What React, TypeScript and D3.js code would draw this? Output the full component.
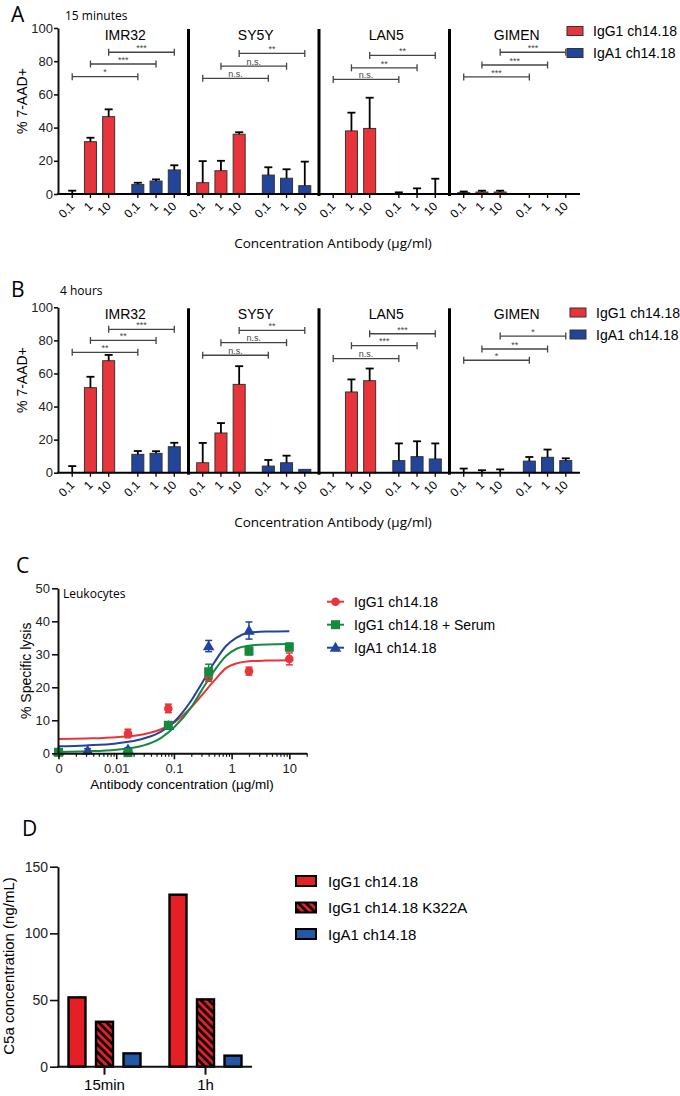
import { useEffect, useRef } from "react";
import * as d3 from "d3";

const SANS = "'Liberation Sans', Arial, sans-serif";
const HUM = "'Open Sans', 'Noto Sans', sans-serif";

// panels A/B
const cellLines = ["IMR32", "SY5Y", "LAN5", "GIMEN"];
const concLabels = ["0,1", "1", "10"];
const abLegend = ["IgG1 ch14.18", "IgA1 ch14.18"];

// A: 15 minutes (mean, upward error)
const minIgG = [[0, 31.5, 46.6], [6.8, 14, 36], [0, 38, 39.5], [0.8, 1.2, 1.2]];
const minIgGErr = [[2, 2.4, 4.4], [13, 6, 1.2], [0, 11, 18.5], [0.7, 0.8, 0.8]];
const minIgA = [[5.8, 7.8, 14.5], [11.4, 9.5, 5], [0, 0, 0], [0, 0, 0]];
const minIgAErr = [[1, 1, 2.8], [4.7, 5.4, 14.5], [1, 3.4, 9.2], [0, 0, 0]];
const minSig = [[70.7, 78.3, 85.4], [69.7, 77, 84.7], [69, 76, 83.5], [70.5, 77.7, 85.4]];
const minSigLabels = [["*", "***", "***"], ["n.s.", "n.s.", "**"], ["n.s.", "**", "**"], ["***", "***", "***"]];

// B: 4 hours
const hrIgG = [[0, 51.4, 67.7], [6, 24, 53.4], [0, 48.8, 55.6], [0, 0, 0]];
const hrIgGErr = [[4, 6.6, 3.5], [12, 6, 11], [0, 7.6, 7.4], [2.5, 1.5, 2]];
const hrIgA = [[11.1, 11.7, 15.7], [4, 6, 2], [7.3, 9.7, 8.3], [7, 9.3, 7.3]];
const hrIgAErr = [[2, 1.3, 2.4], [3.7, 4.3, 0], [10.4, 9.3, 9.4], [2.5, 4.7, 1.4]];
const hrSig = [[72.8, 80, 86.7], [71, 78.6, 86], [69, 76.8, 84], [68, 74.8, 82.6]];
const hrSigLabels = [["**", "**", "***"], ["n.s.", "n.s.", "**"], ["n.s.", "***", "***"], ["*", "**", "*"]];

// C: leukocytes, specific lysis
const igg1Dose = [0.016, 0.08, 0.4, 2, 10];
const igg1Lysis = [6, 13.6, 23, 24.9, 28.6];
const igg1Sem = [1.3, 1.3, 1.2, 1.2, 1.8];
const serumDose = [0.001, 0.016, 0.08, 0.4, 2, 10];
const serumLysis = [0.3, 0.2, 8.5, 24.7, 31, 32.2];
const serumSem = [0.3, 0.4, 0.8, 2.3, 1.2, 1.2];
const igaDose = [0.001, 0.0032, 0.016, 0.08, 0.4, 2];
const igaLysis = [0.6, 0.8, 1.2, 8.3, 32.5, 37.2];
const igaSem = [0.5, 0.6, 0.5, 0.6, 1.7, 2.6];
// fitted curves
const fitDose = [0.001, 0.003, 0.01, 0.03, 0.06, 0.1, 0.2, 0.3, 0.5, 0.8, 1.2, 2, 4, 10];
const igg1Fit = [4.3, 4.5, 4.9, 5.8, 7.3, 9.3, 14, 17.5, 22, 25.8, 27.2, 27.9, 28.1, 28.2];
const serumFit = [0.4, 0.6, 1.1, 2.4, 4.7, 7.8, 14, 19, 25, 29.5, 31.6, 32.6, 33, 33.1];
const igaFit = [2.1, 2.4, 3, 4.5, 6.6, 9.5, 16, 21, 27.5, 32.5, 35, 36.5, 36.9, 37];
const cLegend = ["IgG1 ch14.18", "IgG1 ch14.18 + Serum", "IgA1 ch14.18"];

// D: C5a
const timePoints = ["15min", "1h"];
const c5aIgG1 = [52, 129];
const c5aK322A = [33.7, 50.5];
const c5aIgA1 = [10, 8.3];
const dLegend = ["IgG1 ch14.18", "IgG1 ch14.18 K322A", "IgA1 ch14.18"];

const RED = "#e8343b";
const BLUE = "#23449b";
const GREEN = "#16893f";

function styleAxis(g: any, size: number) {
  g.select(".domain").attr("stroke-width", 2).attr("stroke", "#111");
  g.selectAll(".tick line").attr("stroke-width", 1.6).attr("stroke", "#111");
  g.selectAll(".tick text").attr("font-family", SANS).attr("font-size", size).attr("fill", "#222");
}

function drawBarPanel(svg: any, o: any) {
  const y = d3.scaleLinear().domain([0, 100]).range([o.bottom, o.top]);
  const xg = d3.scaleBand<string>().domain(cellLines).range([58, 580]);
  const slot = d3.scaleLinear().domain([-0.78, 6.38]).range([0, xg.bandwidth()]);
  const slotIdx = [0, 1, 2, 3.6, 4.6, 5.6];
  const barX = (gi: number, s: number, c: number) => (xg(cellLines[gi]) as number) + slot(slotIdx[s * 3 + c]);
  const g = svg.append("g");

  g.append("text").attr("x", 11).attr("y", o.letterY).attr("font-family", HUM)
    .attr("font-size", 21).text(o.letter);
  g.append("text").attr("x", o.subX).attr("y", o.letterY - 2).attr("font-family", HUM)
    .attr("font-size", 12).text(o.subtitle);

  // group labels and dividers
  cellLines.forEach((name, gi) => {
    const gx = xg(name) as number;
    g.append("text").attr("x", gx + xg.bandwidth() / 2 + 2).attr("y", o.top + 11.5)
      .attr("text-anchor", "middle").attr("font-family", SANS).attr("font-size", 14).text(name);
    if (gi > 0) {
      g.append("line").attr("x1", gx).attr("x2", gx).attr("y1", o.top + 1).attr("y2", o.bottom + 2)
        .attr("stroke", "#000").attr("stroke-width", 3);
    }
  });

  // bars + error bars
  const series = [
    { vals: o.igg, errs: o.iggErr, color: RED },
    { vals: o.iga, errs: o.igaErr, color: BLUE },
  ];
  cellLines.forEach((_, gi) => {
    series.forEach((s, si) => {
      concLabels.forEach((lab, c) => {
        const x = barX(gi, si, c);
        const v = s.vals[gi][c];
        const e = s.errs[gi][c];
        if (v > 0) {
          g.append("rect").attr("x", x - 6).attr("width", 12).attr("y", y(v))
            .attr("height", o.bottom - y(v)).attr("fill", s.color)
            .attr("stroke", "#333").attr("stroke-width", 1);
        }
        if (e > 0) {
          g.append("line").attr("x1", x).attr("x2", x).attr("y1", y(v)).attr("y2", y(v + e))
            .attr("stroke", "#000").attr("stroke-width", 1.8);
          g.append("line").attr("x1", x - 4).attr("x2", x + 4).attr("y1", y(v + e)).attr("y2", y(v + e))
            .attr("stroke", "#000").attr("stroke-width", 1.8);
        }
        g.append("line").attr("x1", x).attr("x2", x).attr("y1", o.bottom).attr("y2", o.bottom + 4)
          .attr("stroke", "#000").attr("stroke-width", 1.3);
        g.append("text").attr("transform", `translate(${x + 3},${o.bottom + 13}) rotate(-45)`)
          .attr("text-anchor", "end").attr("font-family", SANS).attr("font-size", 12).text(lab);
      });
    });
  });

  // significance brackets
  cellLines.forEach((_, gi) => {
    [0, 1, 2].forEach((k) => {
      const x1 = barX(gi, 0, k);
      const x2 = barX(gi, 1, k);
      const yy = y(o.sig[gi][k]);
      g.append("line").attr("x1", x1).attr("x2", x2).attr("y1", yy).attr("y2", yy)
        .attr("stroke", "#444").attr("stroke-width", 1.3);
      [x1, x2].forEach((xx) => g.append("line").attr("x1", xx).attr("x2", xx)
        .attr("y1", yy - 3.5).attr("y2", yy + 3.5).attr("stroke", "#444").attr("stroke-width", 1.3));
      g.append("text").attr("x", (x1 + x2) / 2).attr("y", yy - 1.2).attr("text-anchor", "middle")
        .attr("font-family", SANS).attr("font-size", 9).attr("fill", "#444").text(o.sigLabels[gi][k]);
    });
  });

  // axes
  g.append("line").attr("x1", 57).attr("x2", 580).attr("y1", o.bottom).attr("y2", o.bottom)
    .attr("stroke", "#000").attr("stroke-width", 2);
  const ya = g.append("g").attr("transform", "translate(58,0)")
    .call(d3.axisLeft(y).tickValues([0, 20, 40, 60, 80, 100]).tickSize(4).tickPadding(1).tickSizeOuter(0));
  styleAxis(ya, 13);
  g.append("text").attr("transform", `translate(27,${y(56)}) rotate(-90)`).attr("text-anchor", "middle")
    .attr("font-family", SANS).attr("font-size", 14).text("% 7-AAD+");
  g.append("text").attr("x", 333).attr("y", o.bottom + 54).attr("text-anchor", "middle")
    .attr("font-family", HUM).attr("font-size", 13.5).text("Concentration  Antibody (µg/ml)");

  // legend
  [RED, BLUE].forEach((col, i) => {
    const ly = o.legY + i * 22;
    g.append("rect").attr("x", o.legX).attr("y", ly - 4.5).attr("width", 16).attr("height", 9)
      .attr("fill", col).attr("stroke", "#333").attr("stroke-width", 1);
    g.append("text").attr("x", o.legX + 26).attr("y", ly + 5).attr("font-family", SANS)
      .attr("font-size", 14).text(abLegend[i]);
  });
}

function drawMarker(g: any, kind: string, x: number, y: number, color: string) {
  if (kind === "circle") {
    g.append("circle").attr("cx", x).attr("cy", y).attr("r", 4.3).attr("fill", color);
  } else if (kind === "square") {
    g.append("rect").attr("x", x - 4.5).attr("y", y - 4.5).attr("width", 9).attr("height", 9).attr("fill", color);
  } else {
    g.append("path").attr("transform", `translate(${x},${y + 0.8})`)
      .attr("d", d3.symbol().type(d3.symbolTriangle).size(58)()).attr("fill", color);
  }
}

function drawPanelC(svg: any) {
  const x = d3.scaleLog().domain([0.001, 20]).range([58.5, 306.7]);
  const y = d3.scaleLinear().domain([0, 50]).range([753.3, 588.3]);
  const g = svg.append("g");

  g.append("text").attr("x", 16).attr("y", 573).attr("font-family", HUM).attr("font-size", 21).text("C");
  g.append("text").attr("x", 63).attr("y", 598).attr("font-family", HUM).attr("font-size", 12).text("Leukocytes");

  const series = [
    { fit: igg1Fit, dose: igg1Dose, vals: igg1Lysis, sem: igg1Sem, color: RED, kind: "circle" },
    { fit: igaFit, dose: igaDose, vals: igaLysis, sem: igaSem, color: BLUE, kind: "triangle" },
    { fit: serumFit, dose: serumDose, vals: serumLysis, sem: serumSem, color: GREEN, kind: "square" },
  ];
  const line = d3.line<number>().x((_, i) => x(fitDose[i])).y((d) => y(d)).curve(d3.curveMonotoneX);
  series.forEach((s) => {
    g.append("path").attr("d", line(s.fit)).attr("fill", "none").attr("stroke", s.color).attr("stroke-width", 2);
  });
  series.forEach((s) => {
    s.dose.forEach((d, i) => {
      const px = x(d);
      const lo = y(Math.max(0, s.vals[i] - s.sem[i]));
      const hi = y(s.vals[i] + s.sem[i]);
      g.append("line").attr("x1", px).attr("x2", px).attr("y1", lo).attr("y2", hi)
        .attr("stroke", s.color).attr("stroke-width", 1.5);
      [lo, hi].forEach((yy) => g.append("line").attr("x1", px - 3.5).attr("x2", px + 3.5)
        .attr("y1", yy).attr("y2", yy).attr("stroke", s.color).attr("stroke-width", 1.5));
      drawMarker(g, s.kind, px, y(s.vals[i]), s.color);
    });
  });

  // axes
  const majors = [0.001, 0.01, 0.1, 1, 10];
  const minors: number[] = [];
  majors.forEach((m) => d3.range(2, 10).forEach((k) => { if (k * m <= 20) minors.push(k * m); }));
  const xa = g.append("g").attr("transform", "translate(0,753.3)")
    .call(d3.axisBottom(x).tickValues(majors).tickSize(6).tickPadding(4).tickSizeOuter(0)
      .tickFormat((d: any) => (d === 0.001 ? "0" : String(d))));
  styleAxis(xa, 13);
  const xm = g.append("g").attr("transform", "translate(0,753.3)")
    .call(d3.axisBottom(x).tickValues(minors).tickSize(3.5).tickFormat(() => ""));
  xm.select(".domain").remove();
  xm.selectAll(".tick line").attr("stroke", "#111").attr("stroke-width", 1.2);
  const ya = g.append("g").attr("transform", "translate(58,0)")
    .call(d3.axisLeft(y).tickValues([0, 10, 20, 30, 40, 50]).tickSize(6).tickPadding(2).tickSizeOuter(0));
  styleAxis(ya, 13);

  g.append("text").attr("transform", `translate(31,${y(25)}) rotate(-90)`).attr("text-anchor", "middle")
    .attr("font-family", SANS).attr("font-size", 14).text("% Specific lysis");
  g.append("text").attr("x", 182).attr("y", 789).attr("text-anchor", "middle")
    .attr("font-family", SANS).attr("font-size", 13.5).text("Antibody concentration (µg/ml)");

  // legend
  const legSeries = [series[0], series[2], series[1]];
  legSeries.forEach((s, i) => {
    const ly = 601.7 + i * 23;
    g.append("line").attr("x1", 327).attr("x2", 344).attr("y1", ly).attr("y2", ly)
      .attr("stroke", s.color).attr("stroke-width", 2);
    drawMarker(g, s.kind, 335.5, ly, s.color);
    g.append("text").attr("x", 354).attr("y", ly + 5).attr("font-family", SANS)
      .attr("font-size", 14).text(cLegend[i]);
  });
}

function drawPanelD(svg: any) {
  const y = d3.scaleLinear().domain([0, 150]).range([1066.7, 866.7]);
  const x = d3.scaleBand<string>().domain(timePoints).range([54, 256]);
  const sub = d3.scaleBand<number>().domain([0, 1, 2]).range([-41.25, 41.25]);
  const g = svg.append("g");

  const defs = svg.append("defs");
  const pat = defs.append("pattern").attr("id", "hatch").attr("patternUnits", "userSpaceOnUse")
    .attr("width", 5.5).attr("height", 5.5).attr("patternTransform", "rotate(-45)");
  pat.append("rect").attr("width", 5.5).attr("height", 5.5).attr("fill", "#e41f26");
  pat.append("rect").attr("width", 2.6).attr("height", 5.5).attr("fill", "#000");

  g.append("text").attr("x", 22).attr("y", 836).attr("font-family", HUM).attr("font-size", 21).text("D");

  const series = [
    { vals: c5aIgG1, fill: "#e41f26" },
    { vals: c5aK322A, fill: "url(#hatch)" },
    { vals: c5aIgA1, fill: "#2557a7" },
  ];
  timePoints.forEach((t, ti) => {
    const cx = (x(t) as number) + x.bandwidth() / 2;
    series.forEach((s, si) => {
      const bx = cx + (sub(si) as number) + sub.bandwidth() / 2;
      g.append("rect").attr("x", bx - 8.5).attr("width", 17).attr("y", y(s.vals[ti]))
        .attr("height", y(0) - y(s.vals[ti])).attr("fill", s.fill)
        .attr("stroke", "#000").attr("stroke-width", 2.4);
    });
  });

  g.append("line").attr("x1", 57).attr("x2", 252).attr("y1", y(0)).attr("y2", y(0))
    .attr("stroke", "#111").attr("stroke-width", 2);
  timePoints.forEach((t) => {
    const cx = (x(t) as number) + x.bandwidth() / 2;
    g.append("line").attr("x1", cx).attr("x2", cx).attr("y1", y(0)).attr("y2", y(0) + 8)
      .attr("stroke", "#111").attr("stroke-width", 2);
    g.append("text").attr("x", cx).attr("y", 1090).attr("text-anchor", "middle")
      .attr("font-family", SANS).attr("font-size", 15).text(t);
  });
  const ya = g.append("g").attr("transform", "translate(58,0)")
    .call(d3.axisLeft(y).tickValues([0, 50, 100, 150]).tickSize(8).tickPadding(2).tickSizeOuter(0));
  styleAxis(ya, 14);
  g.append("text").attr("transform", `translate(14,966) rotate(-90)`).attr("text-anchor", "middle")
    .attr("font-family", SANS).attr("font-size", 15).text("C5a concentration (ng/mL)");

  series.forEach((s, i) => {
    const ly = 881 + i * 26.5;
    g.append("rect").attr("x", 296).attr("y", ly - 5).attr("width", 20).attr("height", 10)
      .attr("fill", s.fill).attr("stroke", "#000").attr("stroke-width", 2);
    g.append("text").attr("x", 328).attr("y", ly + 5.5).attr("font-family", SANS)
      .attr("font-size", 15).text(dLegend[i]);
  });
}

export default function App() {
  const svgRef = useRef<SVGSVGElement>(null);

  useEffect(() => {
    const svg = d3.select(svgRef.current);
    svg.selectAll("*").remove();
    svg.append("rect").attr("width", 680).attr("height", 1096).attr("fill", "#fff");

    drawBarPanel(svg, {
      letter: "A", subtitle: "15 minutes", subX: 65, letterY: 22, top: 28, bottom: 194,
      igg: minIgG, iggErr: minIgGErr, iga: minIgA, igaErr: minIgAErr,
      sig: minSig, sigLabels: minSigLabels, legX: 567, legY: 31,
    });
    drawBarPanel(svg, {
      letter: "B", subtitle: "4 hours", subX: 60, letterY: 297, top: 307.3, bottom: 472.7,
      igg: hrIgG, iggErr: hrIgGErr, iga: hrIgA, igaErr: hrIgAErr,
      sig: hrSig, sigLabels: hrSigLabels, legX: 570, legY: 312.5,
    });
    drawPanelC(svg);
    drawPanelD(svg);
  }, []);

  return (
    <svg ref={svgRef} width={680} height={1096}
      style={{ position: "absolute", left: 0, top: 0 }} />
  );
}
